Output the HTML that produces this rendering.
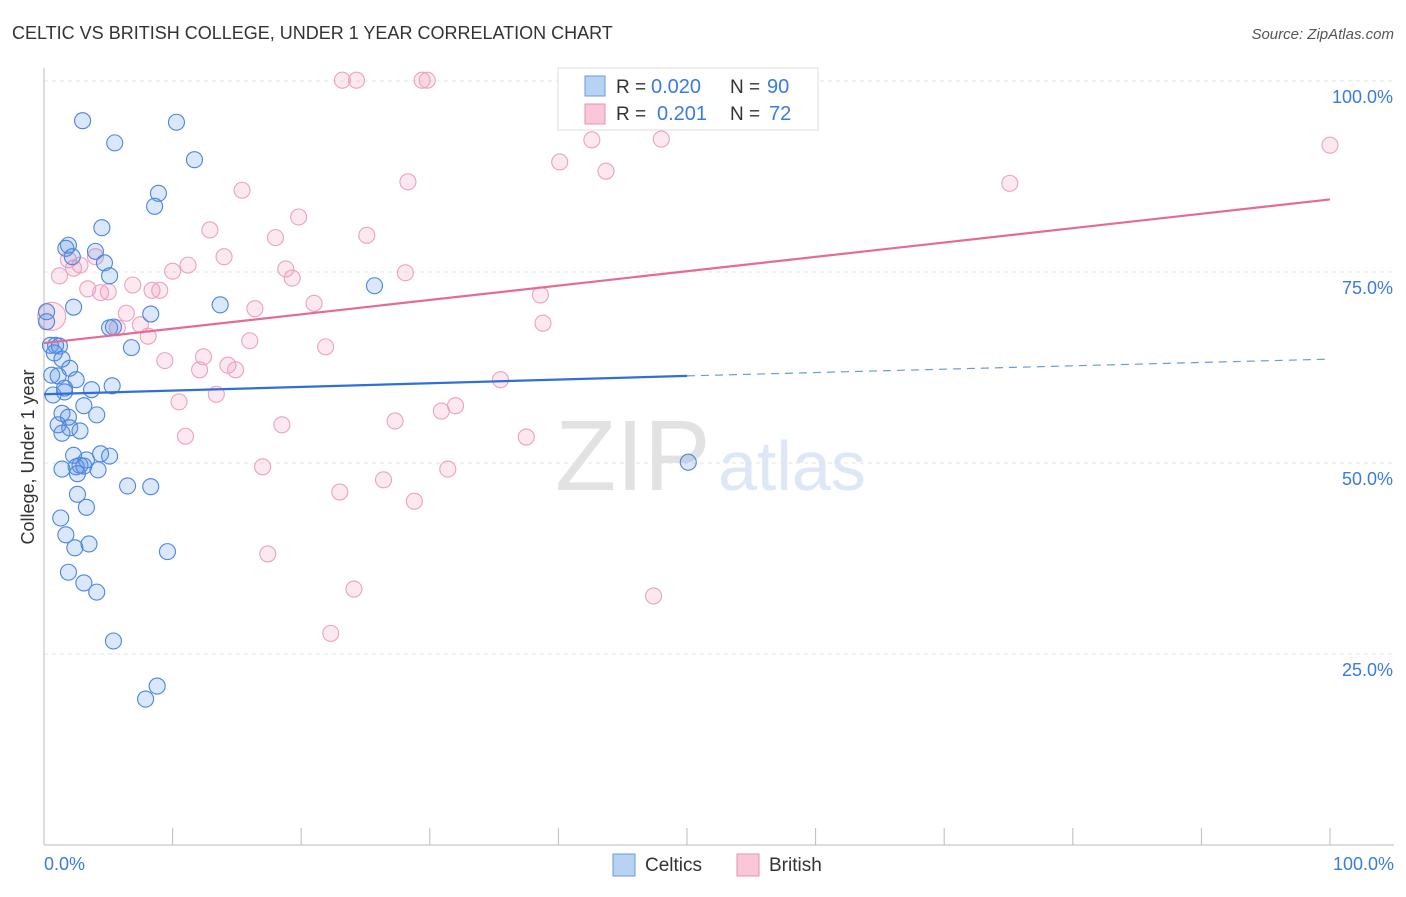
<!DOCTYPE html>
<html><head><meta charset="utf-8"><style>
body{margin:0;background:#fff;font-family:"Liberation Sans",sans-serif}
svg text{font-family:"Liberation Sans",sans-serif}
</style></head><body>
<svg id="c" width="1406" height="892">
<text x="12" y="39" font-size="18" fill="#333">CELTIC VS BRITISH COLLEGE, UNDER 1 YEAR CORRELATION CHART</text>
<text x="1394" y="39" font-size="15" fill="#555" font-style="italic" text-anchor="end">Source: ZipAtlas.com</text>
<text x="555" y="490" font-size="100" fill="#e2e2e2" font-family="Liberation Serif">ZIP</text>
<text x="718" y="490" font-size="70" fill="#dde7f5">atlas</text>
<g id="grid"></g><g id="pts"></g><g id="lines"></g>
<text transform="translate(34,457) rotate(-90)" font-size="18" fill="#333" text-anchor="middle">College, Under 1 year</text>
<text x="44" y="870" font-size="18" fill="#3a7be0">0.0%</text>
<text x="1394" y="870" font-size="18" fill="#3a7be0" text-anchor="end">100.0%</text>
<g>
<rect x="558" y="68" width="260" height="62" fill="#fff" stroke="#ddd"/>
<rect x="585" y="76" width="20" height="20" fill="#b8d2f4" stroke="#6a9ae0"/>
<text x="616" y="93" font-size="19" fill="#333">R =</text>
<text x="651" y="93" font-size="20" fill="#3a7be0">0.020</text>
<text x="730" y="93" font-size="19" fill="#333">N =</text>
<text x="767" y="93" font-size="20" fill="#3a7be0">90</text>
<rect x="585" y="104" width="20" height="20" fill="#f9c8d8" stroke="#e891b0"/>
<text x="616" y="120" font-size="19" fill="#333">R =</text>
<text x="657" y="120" font-size="20" fill="#3a7be0">0.201</text>
<text x="730" y="120" font-size="19" fill="#333">N =</text>
<text x="769" y="120" font-size="20" fill="#3a7be0">72</text>
</g>
<g>
<rect x="613" y="854" width="22" height="22" fill="#b8d2f4" stroke="#6a9ae0"/>
<text x="645" y="871" font-size="19" fill="#333">Celtics</text>
<rect x="737" y="854" width="22" height="22" fill="#f9c8d8" stroke="#e891b0"/>
<text x="769" y="871" font-size="19" fill="#333">British</text>
</g>
</svg>
<script>
const yTicks=[25,50,75,100];
const yTickLabels=["25.0%","50.0%","75.0%","100.0%"];
const xTicks=[10,20,30,40,50,60,70,80,90,100];
const celticsPx=[[82,121],[115,143],[177,122],[195,160],[159,193],[155,206],[102,228],[69,245],[66,248],[96,251],[72,257],[104,263],[109,276],[220,305],[375,286],[73,307],[46,312],[47,322],[151,314],[110,328],[114,327],[132,348],[50,345],[56,345],[60,346],[54,353],[62,359],[70,368],[52,375],[58,376],[76,380],[112,386],[92,390],[64,392],[84,406],[62,413],[68,417],[97,415],[58,425],[70,428],[80,431],[62,433],[74,455],[100,454],[110,456],[86,460],[80,465],[76,467],[84,466],[98,470],[62,469],[78,474],[128,486],[151,487],[77,494],[86,507],[61,518],[66,535],[75,548],[89,544],[168,552],[69,572],[84,583],[97,592],[113,641],[157,686],[146,699],[688,462],[53,395],[65,388]];
const britishPx=[[342,80],[356,80],[422,80],[427,80],[714,80],[592,140],[661,139],[560,162],[606,171],[408,182],[242,190],[1330,145],[1010,183],[299,217],[210,230],[367,235],[276,238],[224,257],[60,276],[96,257],[74,268],[188,265],[172,271],[286,269],[292,278],[405,273],[88,289],[133,285],[101,293],[108,292],[152,290],[160,290],[540,295],[314,303],[255,309],[52,316],[126,313],[140,325],[117,328],[148,336],[250,341],[326,347],[543,323],[165,361],[204,357],[228,365],[199,370],[236,370],[500,380],[216,394],[179,402],[442,411],[456,406],[395,421],[282,425],[185,436],[526,437],[262,467],[448,469],[384,480],[340,492],[414,501],[268,554],[354,589],[654,596],[331,633],[80,265],[68,260]];
const celticsX=celticsPx.map(p=>+((p[0]-44)/12.86).toFixed(1));
const celticsY=celticsPx.map(p=>+((845-p[1])/7.64).toFixed(1));
const britishX=britishPx.map(p=>+((p[0]-44)/12.86).toFixed(1));
const britishY=britishPx.map(p=>+((845-p[1])/7.64).toFixed(1));
const celticsTrend=[[0,59.0],[50,61.4],[100,63.6]];
const britishTrend=[[0,65.7],[100,84.5]];
const X=v=>44+v*12.86, Y=v=>845-v*7.64;
const NS="http://www.w3.org/2000/svg";
function mk(t,a,parent){const e=document.createElementNS(NS,t);for(const k in a)e.setAttribute(k,a[k]);parent.appendChild(e);return e;}
const g=document.getElementById('grid');
yTicks.forEach((t,i)=>{
 const l=mk('line',{x1:44,x2:1394,y1:Y(t),y2:Y(t),stroke:'#e4e4e4','stroke-dasharray':'4,4'},g);
 
 
 const tx=mk('text',{x:1393,y:Y(t)+22,'font-size':18,fill:'#3a7be0','text-anchor':'end'},g);
 tx.textContent=yTickLabels[i];
 
 
});
const ax=mk('line',{x1:44,x2:44,y1:68,y2:845,stroke:'#bbb'},g);


const bx=mk('line',{x1:44,x2:1394,y1:845,y2:845,stroke:'#bbb'},g);


xTicks.forEach(t=>{const l=mk('line',{x1:X(t),x2:X(t),y1:828,y2:845,stroke:'#bbb'},g);
 
 });
const p=document.getElementById('pts');
britishX.forEach((x,i)=>{const c=mk('circle',{cx:X(x),cy:Y(britishY[i]),r:(i==35?14:8),fill:'rgba(240,150,185,0.22)',stroke:'#eaa2bd','stroke-width':1.1},p);
 
 });
celticsX.forEach((x,i)=>{const c=mk('circle',{cx:X(x),cy:Y(celticsY[i]),r:8,fill:'rgba(90,145,230,0.22)',stroke:'#4a85de','stroke-width':1.1},p);
 
 });
const L=document.getElementById('lines');
let a=mk('line',{x1:X(celticsTrend[0][0]),y1:Y(celticsTrend[0][1]),x2:X(celticsTrend[1][0]),y2:Y(celticsTrend[1][1]),stroke:'#2f6fdc','stroke-width':2.2},L);


a=mk('line',{x1:X(celticsTrend[1][0]),y1:Y(celticsTrend[1][1]),x2:X(celticsTrend[2][0]),y2:Y(celticsTrend[2][1]),stroke:'#6a9ae0','stroke-width':1.2,'stroke-dasharray':'8,6'},L);


a=mk('line',{x1:X(britishTrend[0][0]),y1:Y(britishTrend[0][1]),x2:X(britishTrend[1][0]),y2:Y(britishTrend[1][1]),stroke:'#e56a98','stroke-width':2.2},L);


</script>
</body></html>
